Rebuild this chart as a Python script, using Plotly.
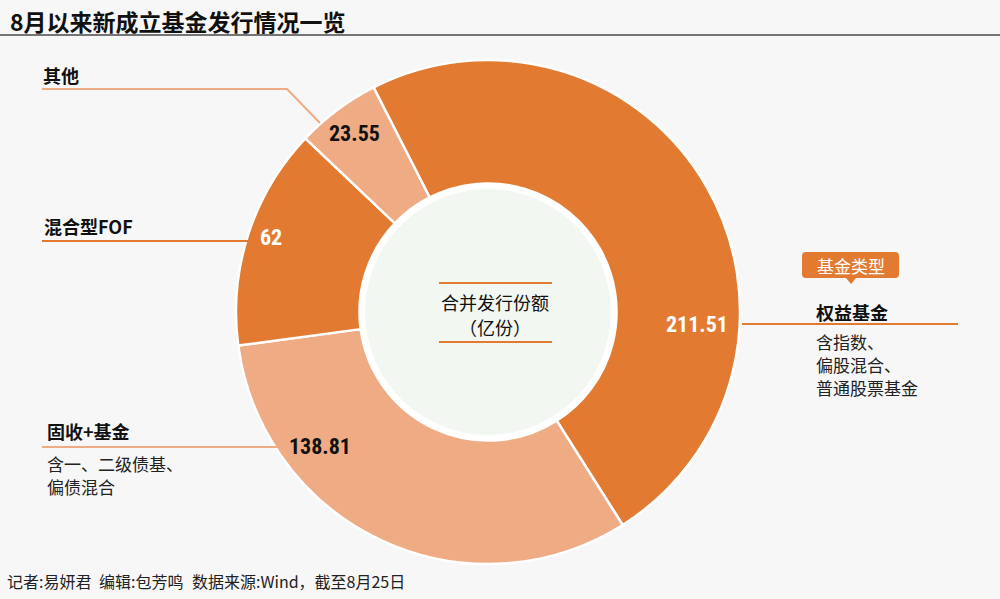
import plotly.graph_objects as go

# ---- data ----
categories = ["权益基金", "固收+基金", "混合型FOF", "其他"]
values = [211.51, 138.81, 62, 23.55]
value_labels = ["211.51", "138.81", "62", "23.55"]
sub_texts = [["含指数、", "偏股混合、", "普通股票基金"], ["含一、二级债基、", "偏债混合"], [], []]
title_text = "8月以来新成立基金发行情况一览"
center_lines = ["合并发行份额", "（亿份）"]
badge_text = "基金类型"
footer_parts = ["记者:易妍君", "编辑:包芳鸣", "数据来源:Wind，截至8月25日"]

# ---- style ----
W, H = 1000, 599
DARK = "#E27B31"
LIGHT = "#EFAC84"
BG = "#F7F7F7"
INNER = "#F2F7F1"
colors = [DARK, LIGHT, DARK, LIGHT]
num_colors = ["white", "#111111", "white", "#111111"]
CJK = "Noto Sans CJK SC"
NUMF = "Liberation Sans Narrow, Roboto Condensed, Arial Narrow, Roboto"

cx, cy, R = 488, 312, 252

fig = go.Figure()
fig.add_trace(go.Pie(
    labels=categories, values=values, sort=False, direction="clockwise",
    rotation=-27, hole=0.51, textinfo="none", hoverinfo="label+value",
    marker=dict(colors=colors, line=dict(color="white", width=2.5)),
    domain=dict(x=[(cx - R) / W, (cx + R) / W], y=[1 - (cy + R) / H, 1 - (cy - R) / H]),
    showlegend=False,
))

shapes = []
ann = []

# inner circles
shapes.append(dict(type="circle", xref="x", yref="y", layer="below",
                   x0=cx - 130, x1=cx + 130, y0=cy - 130, y1=cy + 130,
                   fillcolor="white", line=dict(width=0)))
shapes.append(dict(type="circle", xref="x", yref="y", layer="above",
                   x0=cx - 123, x1=cx + 123, y0=cy - 123, y1=cy + 123,
                   fillcolor=INNER, line=dict(width=0)))

# title and rule
ann.append(dict(x=8, y=21, text="<b>%s</b>" % title_text, showarrow=False, xanchor="left", yanchor="middle",
                font=dict(family=CJK, size=23, color="#111111")))
shapes.append(dict(type="line", xref="x", yref="y", x0=0, x1=W, y0=35, y1=35,
                   line=dict(color="#4a4a4a", width=1.5)))

# center text
for i, t in enumerate(center_lines):
    ann.append(dict(x=cx + 7, y=302 + i * 25, text=t, showarrow=False, xanchor="center", yanchor="middle",
                    borderpad=0, font=dict(family=CJK, size=18, color="#111111")))
for yy in (283, 342):
    shapes.append(dict(type="line", xref="x", yref="y", x0=439, x1=552, y0=yy, y1=yy,
                       line=dict(color=DARK, width=2)))

# slice value labels
num_pos = [(697, 324), (320, 446), (271, 237), (354, 133)]
for lbl, (x, y), c in zip(value_labels, num_pos, num_colors):
    ann.append(dict(x=x, y=y, text="<b>%s</b>" % lbl, showarrow=False, xanchor="center", yanchor="middle",
                    font=dict(family=NUMF, size=22, color=c)))

# leader lines
shapes.append(dict(type="line", xref="x", yref="y", x0=742, x1=958, y0=324, y1=324,
                   line=dict(color=DARK, width=2)))
shapes.append(dict(type="line", xref="x", yref="y", x0=42, x1=278, y0=447, y1=447,
                   line=dict(color=LIGHT, width=2)))
shapes.append(dict(type="line", xref="x", yref="y", x0=42, x1=248, y0=241, y1=241,
                   line=dict(color=DARK, width=2)))
shapes.append(dict(type="path", xref="x", yref="y", path="M42,89 L287,89 L320,123",
                   line=dict(color=LIGHT, width=2)))

# category labels
lab_pos = [(815, 312), (46, 431), (43, 226), (42, 75)]
for cat, (x, y) in zip(categories, lab_pos):
    ann.append(dict(x=x, y=y, text="<b>%s</b>" % cat, showarrow=False, xanchor="left", yanchor="middle",
                    borderpad=0, font=dict(family=CJK, size=18, color="#111111")))
sub_pos = [(815, 341), (46, 463)]
for lines, (x, y) in zip(sub_texts, sub_pos):
    for j, t in enumerate(lines):
        ann.append(dict(x=x, y=y + j * 23, text=t, showarrow=False, xanchor="left", yanchor="middle",
                        borderpad=0, font=dict(family=CJK, size=17, color="#222222")))

# badge
bx0, bx1, by0, by1, rr = 802, 899, 252, 278, 4
badge_path = (f"M{bx0+rr},{by0} L{bx1-rr},{by0} Q{bx1},{by0} {bx1},{by0+rr} L{bx1},{by1-rr} "
              f"Q{bx1},{by1} {bx1-rr},{by1} L856,{by1} L851,284 L846,{by1} L{bx0+rr},{by1} "
              f"Q{bx0},{by1} {bx0},{by1-rr} L{bx0},{by0+rr} Q{bx0},{by0} {bx0+rr},{by0} Z")
shapes.append(dict(type="path", xref="x", yref="y", path=badge_path, fillcolor=DARK,
                   line=dict(width=0), layer="above"))
ann.append(dict(x=(bx0 + bx1) / 2, y=(by0 + by1) / 2, text=badge_text, showarrow=False,
                xanchor="center", yanchor="middle", font=dict(family=CJK, size=17, color="white")))

# footer
for t, x in zip(footer_parts, (5, 97, 190)):
    ann.append(dict(x=x, y=581, text=t, showarrow=False, xanchor="left", yanchor="middle",
                    font=dict(family=CJK, size=16, color="#222222")))

for a in ann:
    a.setdefault("xref", "x")
    a.setdefault("yref", "y")

fig.update_layout(
    width=W, height=H, margin=dict(l=0, r=0, t=0, b=0),
    paper_bgcolor=BG, plot_bgcolor=BG,
    xaxis=dict(range=[0, W], visible=False, fixedrange=True, domain=[0, 1]),
    yaxis=dict(range=[H, 0], visible=False, fixedrange=True, domain=[0, 1]),
    shapes=shapes, annotations=ann,
)
fig.write_html("out.html", config={"displayModeBar": False},
               post_script="document.body.style.margin='0';document.body.style.overflow='hidden';")
